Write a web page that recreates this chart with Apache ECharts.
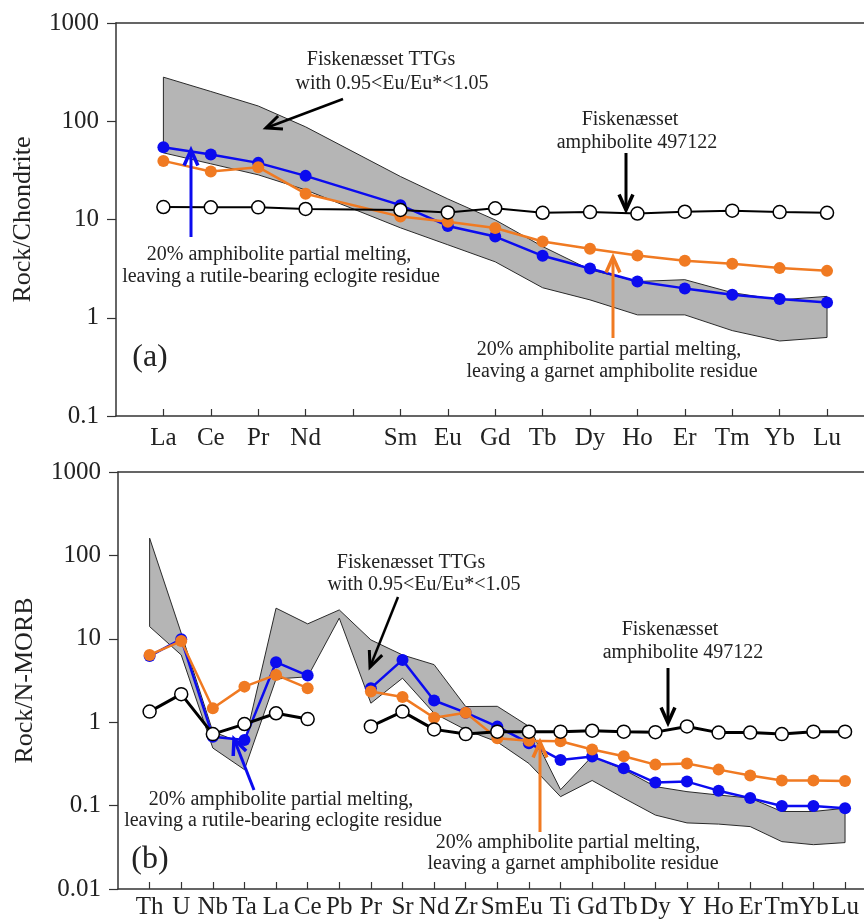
<!DOCTYPE html>
<html>
<head>
<meta charset="utf-8">
<script src="https://cdn.jsdelivr.net/npm/echarts/dist/echarts.min.js"></script>
<style>
html, body { margin: 0; padding: 0; background: #fff; }
#chart { width: 864px; height: 924px; }
</style>
</head>
<body>
<div id="chart"></div>
<script>
// (a) chondrite-normalised REE, Pm left blank
var reeNames = ['La', 'Ce', 'Pr', 'Nd', '', 'Sm', 'Eu', 'Gd', 'Tb', 'Dy', 'Ho', 'Er', 'Tm', 'Yb', 'Lu']
var amphA = [13.4, 13.3, 13.3, 12.8, null, 12.5, 11.8, 13.0, 11.7, 11.9, 11.5, 12.0, 12.3, 11.9, 11.7]
var eclogiteA = [54.5, 45.8, 37.7, 27.8, null, 14.0, 8.6, 6.7, 4.27, 3.17, 2.34, 1.99, 1.71, 1.55, 1.43]
var garnetA = [39.5, 30.8, 34.1, 18.3, null, 10.7, 9.5, 8.2, 5.97, 5.03, 4.3, 3.8, 3.54, 3.2, 3.0]
var ttgHiA = [281, 201, 143, 87.7, null, 27.4, 16.2, 9.9, 5.31, 3.08, 2.34, 2.44, 1.8, 1.52, 1.65]
var ttgLoA = [47.7, 36.9, 28.5, 20.0, null, 8.23, 5.53, 3.71, 2.02, 1.52, 1.07, 1.07, 0.74, 0.58, 0.63]

// (b) N-MORB-normalised spider diagram
var spiderNames = ['Th', 'U', 'Nb', 'Ta', 'La', 'Ce', 'Pb', 'Pr', 'Sr', 'Nd', 'Zr', 'Sm', 'Eu', 'Ti', 'Gd', 'Tb', 'Dy', 'Y', 'Ho', 'Er', 'Tm', 'Yb', 'Lu']
var amphB = [1.34, 2.17, 0.72, 0.95, 1.28, 1.09, null, 0.89, 1.34, 0.82, 0.72, 0.77, 0.77, 0.77, 0.79, 0.77, 0.76, 0.89, 0.75, 0.75, 0.72, 0.77, 0.77]
var eclogiteB = [6.2, 9.9, 0.67, 0.61, 5.24, 3.62, null, 2.56, 5.58, 1.82, 1.3, 0.885, 0.56, 0.353, 0.387, 0.28, 0.189, 0.194, 0.151, 0.123, 0.099, 0.099, 0.093]
var garnetB = [6.4, 9.4, 1.47, 2.67, 3.69, 2.56, null, 2.33, 2.0, 1.13, 1.3, 0.64, 0.6, 0.59, 0.47, 0.39, 0.31, 0.32, 0.27, 0.23, 0.2, 0.2, 0.197]
var ttgHiB = [161, 11.7, 0.77, 0.55, 23.3, 15.1, 22.2, 9.7, 6.4, 4.9, 1.54, 1.55, 0.89, 0.155, 0.39, 0.27, 0.169, 0.147, 0.134, 0.123, 0.085, 0.085, 0.093]
var ttgLoB = [14.0, 6.4, 0.49, 0.27, 3.3, 3.5, 17.7, 1.69, 3.37, 1.28, 0.81, 0.58, 0.32, 0.128, 0.2, 0.123, 0.077, 0.062, 0.06, 0.056, 0.037, 0.034, 0.036]

var FONT = 'Liberation Serif'
var BLUE = '#0b0bef'
var ORANGE = '#f07a22'

function pairs (vals) {
    return vals.map(function (v, i) { return [i + 1, v] })
}

function bandSeries (hi, lo, axisIdx) {
    var data = []
    hi.forEach(function (v, i) {
        if (v != null) data.push([i + 1, lo[i], v])
    })
    return {
        type: 'custom',
        xAxisIndex: axisIdx,
        yAxisIndex: axisIdx,
        z: 1,
        silent: true,
        encode: { x: 0, y: [1, 2] },
        data: data,
        renderItem: function (params, api) {
            if (params.dataIndex !== 0) return null
            var pts = []
            data.forEach(function (d) { pts.push(api.coord([d[0], d[2]])) })
            for (var i = data.length - 1; i >= 0; i--) pts.push(api.coord([data[i][0], data[i][1]]))
            return {
                type: 'polygon',
                shape: { points: pts },
                style: { fill: '#b5b5b5', stroke: '#2a2a2a', lineWidth: 1 }
            }
        }
    }
}

function lineSeries (vals, axisIdx, kind, connect) {
    var s = {
        type: 'line',
        xAxisIndex: axisIdx,
        yAxisIndex: axisIdx,
        data: pairs(vals),
        connectNulls: connect,
        symbol: 'circle',
        symbolSize: 12,
        animation: false
    }
    if (kind === 'amph') {
        s.z = 4
        s.symbolSize = 13
        s.itemStyle = { color: '#fff', borderColor: '#000', borderWidth: 1.5 }
        s.lineStyle = { color: '#000', width: axisIdx === 0 ? 2 : 3 }
    } else {
        var c = kind === 'blue' ? BLUE : ORANGE
        s.z = kind === 'blue' ? 2 : 3
        s.itemStyle = { color: c }
        s.lineStyle = { color: c, width: 2.5 }
    }
    return s
}

function xAxisFor (gridIdx, names, max, margin) {
    return {
        type: 'value',
        gridIndex: gridIdx,
        min: 0,
        max: max,
        interval: 1,
        splitLine: { show: false },
        axisLine: { lineStyle: { color: '#333', width: 1.5 } },
        axisTick: { inside: true, length: 7, lineStyle: { color: '#333', width: 1.2 } },
        axisLabel: {
            margin: margin,
            showMinLabel: false,
            showMaxLabel: false,
            fontFamily: FONT,
            fontSize: 25,
            color: '#222',
            formatter: function (v) { return names[v - 1] || '' }
        }
    }
}

function topLine (gridIdx) {
    return {
        type: 'value',
        gridIndex: gridIdx,
        position: 'top',
        min: 0,
        max: 1,
        axisLine: { lineStyle: { color: '#333', width: 1.5 } },
        axisTick: { show: false },
        axisLabel: { show: false },
        splitLine: { show: false }
    }
}

function yAxisFor (gridIdx, min, name) {
    return {
        type: 'log',
        logBase: 10,
        gridIndex: gridIdx,
        min: min,
        max: 1000,
        name: name,
        nameLocation: 'middle',
        nameGap: 80,
        nameTextStyle: { fontFamily: FONT, fontSize: 26, color: '#222' },
        splitLine: { show: false },
        minorTick: { show: false },
        axisLine: { show: true, lineStyle: { color: '#333', width: 1.5 } },
        axisTick: { show: true, inside: false, length: 9, lineStyle: { color: '#333', width: 1.2 } },
        axisLabel: {
            margin: 17,
            fontFamily: FONT,
            fontSize: 25,
            color: '#222',
            formatter: function (v) { return String(+Number(v).toPrecision(2)) }
        }
    }
}

function txt (x, y, s, size) {
    return {
        type: 'text',
        x: x,
        y: y,
        z: 100,
        style: {
            text: s,
            fontFamily: FONT,
            fontSize: size || 20,
            fill: '#222',
            textAlign: 'center',
            textVerticalAlign: 'middle'
        }
    }
}

// arrow drawn as a shaft plus an open V head at (x2, y2)
function arrow (x1, y1, x2, y2, color, w) {
    var ang = Math.atan2(y2 - y1, x2 - x1)
    var len = 17
    var spread = 0.42
    var p1 = [x2 - len * Math.cos(ang - spread), y2 - len * Math.sin(ang - spread)]
    var p2 = [x2 - len * Math.cos(ang + spread), y2 - len * Math.sin(ang + spread)]
    return [
        { type: 'line', z: 100, shape: { x1: x1, y1: y1, x2: x2, y2: y2 }, style: { stroke: color, lineWidth: w } },
        { type: 'polyline', z: 100, shape: { points: [p1, [x2, y2], p2] }, style: { stroke: color, lineWidth: w + 0.5, fill: null, lineJoin: 'miter' } }
    ]
}

var chart = echarts.init(document.getElementById('chart'))

var graphics = [].concat(
    // panel (a)
    txt(381, 60, 'Fiskenæsset TTGs'),
    txt(392, 84, 'with 0.95<Eu/Eu*<1.05'),
    arrow(343, 99, 266, 128, '#000', 2.5),
    txt(630, 120, 'Fiskenæsset'),
    txt(637, 143, 'amphibolite 497122'),
    arrow(626, 153, 626, 210, '#000', 3),
    arrow(191, 237, 191, 150, BLUE, 3),
    txt(279, 255, '20% amphibolite partial melting,'),
    txt(281, 277, 'leaving a rutile-bearing eclogite residue'),
    arrow(613, 338, 613, 257, ORANGE, 3),
    txt(609, 350, '20% amphibolite partial melting,'),
    txt(612, 372, 'leaving a garnet amphibolite residue'),
    txt(150, 358, '(a)', 32),
    // panel (b)
    txt(411, 563, 'Fiskenæsset TTGs'),
    txt(424, 585, 'with 0.95<Eu/Eu*<1.05'),
    arrow(398, 597, 370, 667, '#000', 2.5),
    txt(670, 630, 'Fiskenæsset'),
    txt(683, 653, 'amphibolite 497122'),
    arrow(668, 668, 668, 723, '#000', 3),
    arrow(254, 790, 234, 739, BLUE, 3),
    txt(281, 800, '20% amphibolite partial melting,'),
    txt(283, 821, 'leaving a rutile-bearing eclogite residue'),
    arrow(540, 832, 540, 742, ORANGE, 3),
    txt(568, 843, '20% amphibolite partial melting,'),
    txt(573, 864, 'leaving a garnet amphibolite residue'),
    txt(150, 860, '(b)', 32)
)

var option = {
    animation: false,
    backgroundColor: '#fff',
    grid: [
        { left: 116, top: 23, right: 0, height: 393 },
        { left: 118, top: 472, right: 0, height: 417 }
    ],
    xAxis: [
        xAxisFor(0, reeNames, 15.78, 10),
        xAxisFor(1, spiderNames, 23.6, 6),
        topLine(0),
        topLine(1)
    ],
    yAxis: [
        yAxisFor(0, 0.1, 'Rock/Chondrite'),
        yAxisFor(1, 0.01, 'Rock/N-MORB')
    ],
    series: [
        bandSeries(ttgHiA, ttgLoA, 0),
        lineSeries(eclogiteA, 0, 'blue', true),
        lineSeries(garnetA, 0, 'orange', true),
        lineSeries(amphA, 0, 'amph', true),
        bandSeries(ttgHiB, ttgLoB, 1),
        lineSeries(eclogiteB, 1, 'blue', false),
        lineSeries(garnetB, 1, 'orange', false),
        lineSeries(amphB, 1, 'amph', false)
    ],
    graphic: { elements: graphics }
}

chart.setOption(option)
</script>
</body>
</html>
